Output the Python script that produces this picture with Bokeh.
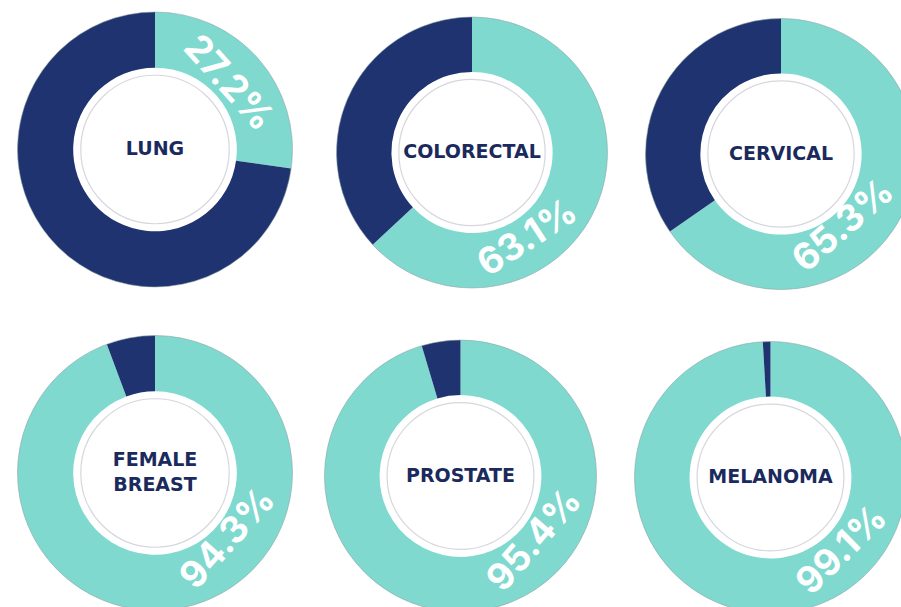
import math
from bokeh.plotting import figure
from bokeh.models import ColumnDataSource, Range1d
from bokeh.core.properties import value
from bokeh.embed import file_html
from bokeh.resources import INLINE

# ---- data ----
cancers = ["LUNG", "COLORECTAL", "CERVICAL", "FEMALE\nBREAST", "PROSTATE", "MELANOMA"]
survival = [27.2, 63.1, 65.3, 94.3, 95.4, 99.1]
pct_labels = ["27.2%", "63.1%", "65.3%", "94.3%", "95.4%", "99.1%"]

# ---- layout (pixel positions of each donut) ----
W, H = 901, 607
cx_px = [154.5, 471.5, 780.5, 154.5, 460.0, 770.0]
cy_px = [149.0, 152.0, 153.5, 472.5, 475.5, 477.0]
r_out = [137.5, 135.5, 135.5, 137.5, 136.0, 136.0]
hole_frac = 0.595
ring_frac = 0.54
label_deg = [42.0, -57.0, -49.0, -42.0, -41.0, -45.5]
label_dist = [101.0, 100.0, 93.0, 96.0, 96.0, 100.0]

TEAL = "#7fd9cf"
NAVY = "#1e3370"
TEXT_NAVY = "#1b2a5c"

cx = cx_px
cy = [H - v for v in cy_px]
frac = [s / 100.0 for s in survival]
r_in = [r * hole_frac for r in r_out]
r_ring = [r * ring_frac for r in r_out]

top = math.pi / 2
teal_start = [top - 2 * math.pi * f for f in frac]
teal_end = [top for _ in frac]
dark_start = [top for _ in frac]
dark_end = [top - 2 * math.pi * f + 2 * math.pi for f in frac]

lab_x = [x + d * math.cos(math.radians(a)) for x, d, a in zip(cx, label_dist, label_deg)]
lab_y = [y + d * math.sin(math.radians(a)) for y, d, a in zip(cy, label_dist, label_deg)]
lab_rot = [math.radians(a - 90) if a > 0 else math.radians(a + 90) for a in label_deg]
name_y = [y + 1.5 for y in cy]

src = ColumnDataSource(dict(
    x=cx, y=cy, r_in=r_in, r_out=r_out, r_ring=r_ring,
    ts=teal_start, te=teal_end, ds=dark_start, de=dark_end,
    name=cancers, pct=pct_labels, lx=lab_x, ly=lab_y, lrot=lab_rot, ny=name_y,
))

p = figure(width=W, height=H, x_range=Range1d(0, W), y_range=Range1d(0, H),
           output_backend="svg", toolbar_location=None, min_border=0)
p.axis.visible = False
p.grid.visible = False
p.outline_line_color = None
p.background_fill_color = "white"
p.border_fill_color = "white"

p.annular_wedge(x="x", y="y", inner_radius="r_in", outer_radius="r_out",
                start_angle="ts", end_angle="te", direction="anticlock",
                fill_color=TEAL, line_color=None, source=src)
p.annular_wedge(x="x", y="y", inner_radius="r_in", outer_radius="r_out",
                start_angle="ds", end_angle="de", direction="anticlock",
                fill_color=NAVY, line_color=None, source=src)
# thin outer rim
p.circle(x="x", y="y", radius="r_out", fill_color=None,
         line_color="#8fa3a3", line_width=0.8, line_alpha=0.7, source=src)
# inner grey ring
p.circle(x="x", y="y", radius="r_ring", fill_color=None,
         line_color="#d6d6de", line_width=1.2, source=src)

p.text(x="lx", y="ly", text="pct", angle="lrot", source=src,
       text_font=value("Inter"), text_font_style="bold", text_font_size="37px",
       text_color="white", text_align="center", text_baseline="middle")

p.text(x="x", y="ny", text="name", source=src,
       text_font=value("DejaVu Sans"), text_font_style="bold", text_font_size="19px",
       text_color=TEXT_NAVY, text_align="center", text_baseline="middle",
       text_line_height=1.1)

open("out.html", "w").write(file_html(p, INLINE))
